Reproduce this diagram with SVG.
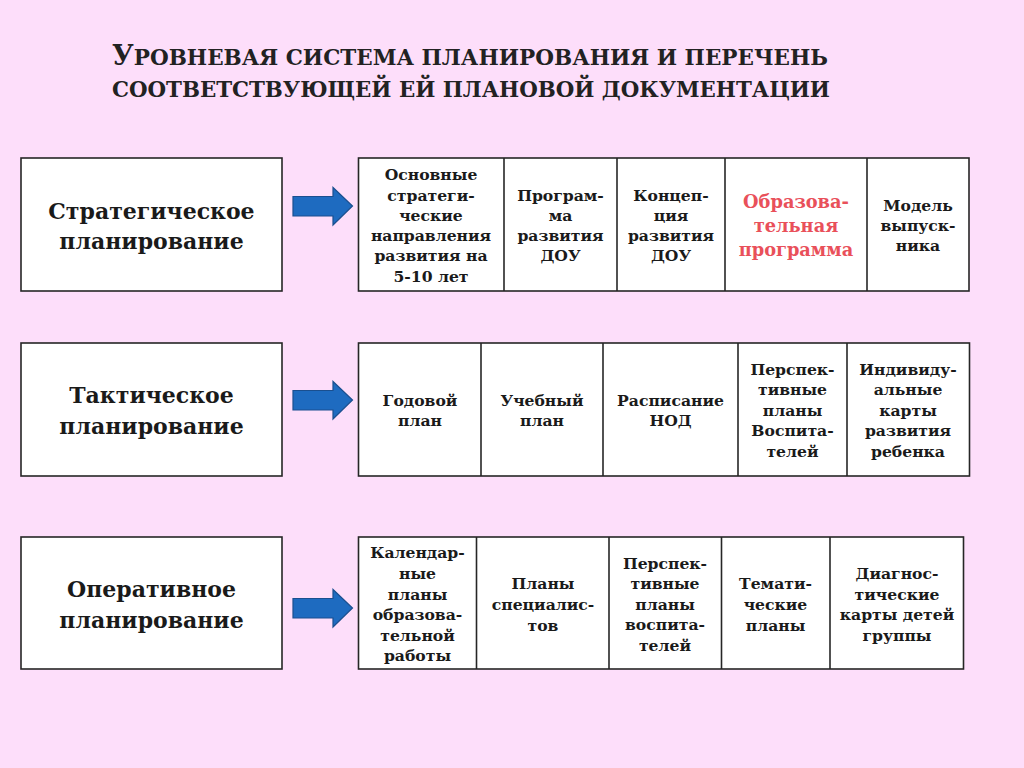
<svg xmlns="http://www.w3.org/2000/svg" width="1024" height="768" viewBox="0 0 1024 768">
<style>
.bg{fill:#FDDEFA}
.box{fill:#ffffff;stroke:#262626;stroke-width:1.6}
.ln{stroke:#262626;stroke-width:1.6}
.lbl{font-family:"DejaVu Serif","Liberation Serif",serif;font-weight:bold;font-size:22px;fill:#1a1a1a;text-anchor:middle}
.t{font-family:"DejaVu Serif","Liberation Serif",serif;font-weight:bold;font-size:15.6px;fill:#1a1a1a;text-anchor:middle}
.red{font-family:"DejaVu Serif","Liberation Serif",serif;font-weight:bold;font-size:17.8px;fill:#E9505A;text-anchor:middle}
.title{font-family:"DejaVu Serif","Liberation Serif",serif;font-weight:bold;font-size:22.5px;fill:#222222}
.big{font-size:28px}
.arr{fill:#1E6BC0;stroke:#1A4F8F;stroke-width:1.2}
</style>
<rect class="bg" x="0" y="0" width="1024" height="768"/>
<g id="title">
<text class="title" x="112" y="65" textLength="716" lengthAdjust="spacingAndGlyphs"><tspan class="big">У</tspan>РОВНЕВАЯ СИСТЕМА ПЛАНИРОВАНИЯ И ПЕРЕЧЕНЬ</text>
<text class="title" x="112" y="97" textLength="718" lengthAdjust="spacingAndGlyphs">СООТВЕТСТВУЮЩЕЙ ЕЙ ПЛАНОВОЙ ДОКУМЕНТАЦИИ</text>
</g>
<g id="connectors">
<path class="arr" d="M293,196.5 H333 V187.5 L352.5,206 L333,225 V216 H293 Z"/>
<path class="arr" d="M293,390.5 H333 V381.5 L352.5,400 L333,419 V410 H293 Z"/>
<path class="arr" d="M293,598.5 H333 V589.5 L352.5,608 L333,627 V618 H293 Z"/>
</g>
<g id="strategic">
<rect class="box" x="21" y="158" width="261" height="133"/>
<text class="lbl" x="151.5" y="219">Стратегическое</text>
<text class="lbl" x="151.5" y="249">планирование</text>
</g>
<g id="strategic-docs">
<rect class="box" x="358.5" y="158" width="610.5" height="133"/>
<line class="ln" x1="504" y1="158" x2="504" y2="291"/>
<line class="ln" x1="617" y1="158" x2="617" y2="291"/>
<line class="ln" x1="725" y1="158" x2="725" y2="291"/>
<line class="ln" x1="867" y1="158" x2="867" y2="291"/>
<text class="t" x="431" y="180">Основные</text>
<text class="t" x="431" y="201">стратеги-</text>
<text class="t" x="431" y="221">ческие</text>
<text class="t" x="431" y="241">направления</text>
<text class="t" x="431" y="261">развития на</text>
<text class="t" x="431" y="282">5-10 лет</text>
<text class="t" x="560.5" y="201">Програм-</text>
<text class="t" x="560.5" y="221">ма</text>
<text class="t" x="560.5" y="241">развития</text>
<text class="t" x="560.5" y="261">ДОУ</text>
<text class="t" x="671" y="201">Концеп-</text>
<text class="t" x="671" y="221">ция</text>
<text class="t" x="671" y="241">развития</text>
<text class="t" x="671" y="261">ДОУ</text>
<text class="red" x="796" y="208">Образова-</text>
<text class="red" x="796" y="232">тельная</text>
<text class="red" x="796" y="256">программа</text>
<text class="t" x="918" y="211">Модель</text>
<text class="t" x="918" y="231">выпуск-</text>
<text class="t" x="918" y="251">ника</text>
</g>
<g id="tactical">
<rect class="box" x="21" y="343" width="261" height="133"/>
<text class="lbl" x="151.5" y="403">Тактическое</text>
<text class="lbl" x="151.5" y="434">планирование</text>
</g>
<g id="tactical-docs">
<rect class="box" x="358.5" y="343" width="611" height="133"/>
<line class="ln" x1="481" y1="343" x2="481" y2="476"/>
<line class="ln" x1="603" y1="343" x2="603" y2="476"/>
<line class="ln" x1="738" y1="343" x2="738" y2="476"/>
<line class="ln" x1="847" y1="343" x2="847" y2="476"/>
<text class="t" x="420" y="406">Годовой</text>
<text class="t" x="420" y="426">план</text>
<text class="t" x="542" y="406">Учебный</text>
<text class="t" x="542" y="426">план</text>
<text class="t" x="670.5" y="406">Расписание</text>
<text class="t" x="670.5" y="426">НОД</text>
<text class="t" x="792.5" y="375">Перспек-</text>
<text class="t" x="792.5" y="395">тивные</text>
<text class="t" x="792.5" y="416">планы</text>
<text class="t" x="792.5" y="436">Воспита-</text>
<text class="t" x="792.5" y="457">телей</text>
<text class="t" x="908" y="375">Индивиду-</text>
<text class="t" x="908" y="395">альные</text>
<text class="t" x="908" y="416">карты</text>
<text class="t" x="908" y="436">развития</text>
<text class="t" x="908" y="457">ребенка</text>
</g>
<g id="operative">
<rect class="box" x="21" y="537" width="261" height="132"/>
<text class="lbl" x="151.5" y="597">Оперативное</text>
<text class="lbl" x="151.5" y="628">планирование</text>
</g>
<g id="operative-docs">
<rect class="box" x="358.5" y="537" width="605" height="132"/>
<line class="ln" x1="476.5" y1="537" x2="476.5" y2="669"/>
<line class="ln" x1="609" y1="537" x2="609" y2="669"/>
<line class="ln" x1="721.5" y1="537" x2="721.5" y2="669"/>
<line class="ln" x1="830" y1="537" x2="830" y2="669"/>
<text class="t" x="417.5" y="558">Календар-</text>
<text class="t" x="417.5" y="579">ные</text>
<text class="t" x="417.5" y="600">планы</text>
<text class="t" x="417.5" y="620">образова-</text>
<text class="t" x="417.5" y="641">тельной</text>
<text class="t" x="417.5" y="661">работы</text>
<text class="t" x="543" y="589">Планы</text>
<text class="t" x="543" y="610">специалис-</text>
<text class="t" x="543" y="631">тов</text>
<text class="t" x="665" y="569">Перспек-</text>
<text class="t" x="665" y="589">тивные</text>
<text class="t" x="665" y="610">планы</text>
<text class="t" x="665" y="630">воспита-</text>
<text class="t" x="665" y="651">телей</text>
<text class="t" x="775.5" y="589">Темати-</text>
<text class="t" x="775.5" y="610">ческие</text>
<text class="t" x="775.5" y="631">планы</text>
<text class="t" x="897" y="579">Диагнос-</text>
<text class="t" x="897" y="600">тические</text>
<text class="t" x="897" y="620">карты детей</text>
<text class="t" x="897" y="641">группы</text>
</g>
</svg>
